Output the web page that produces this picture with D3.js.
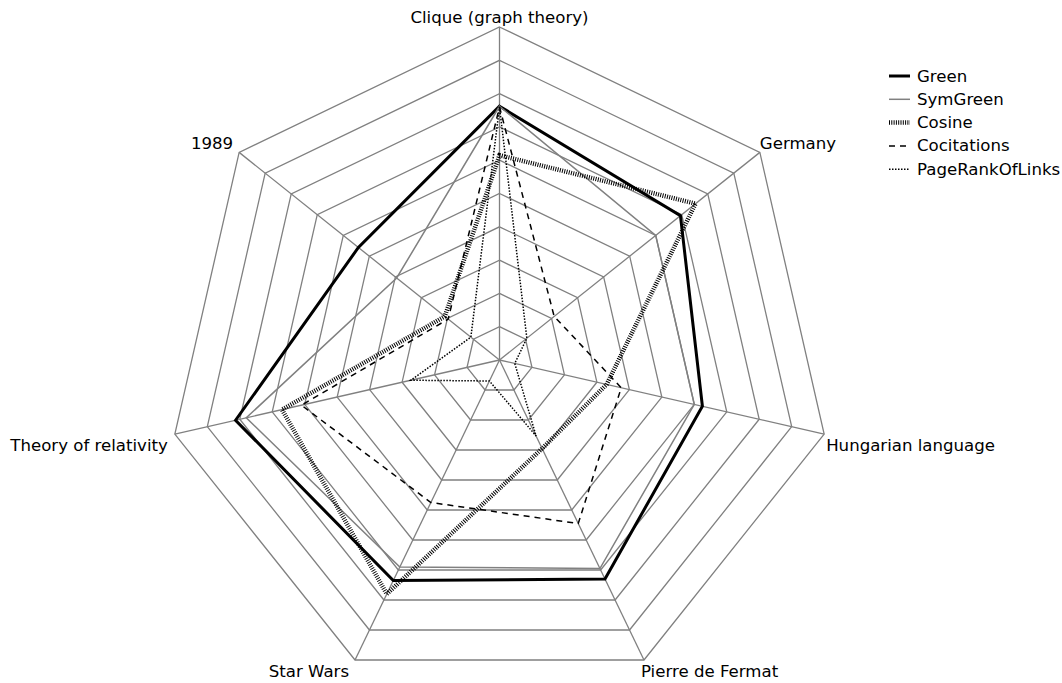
<!DOCTYPE html>
<html>
<head>
<meta charset="utf-8">
<script src="https://cdn.jsdelivr.net/npm/d3@7"></script>
<style>
  html, body { margin: 0; padding: 0; background: #fff; }
  svg { display: block; font-family: "DejaVu Sans", sans-serif; }
</style>
</head>
<body>
<svg id="chart" width="1062" height="683"></svg>
<script>
const categories = ["Clique (graph theory)", "Germany", "Hungarian language", "Pierre de Fermat", "Star Wars", "Theory of relativity", "1989"];
const seriesNames = ["Green", "SymGreen", "Cosine", "Cocitations", "PageRankOfLinks"];
const green = [7.62, 6.95, 6.25, 7.3, 7.35, 8.13, 5.42];
const symGreen = [7.62, 6.0, 6.0, 6.95, 6.9, 7.8, 3.95];
const cosine = [6.15, 7.53, 3.3, 2.95, 7.8, 6.7, 2.1];
const cocitations = [7.6, 2.1, 3.75, 5.45, 4.75, 6.1, 1.97];
const pageRankOfLinks = [7.6, 1.05, 0.47, 2.53, 0.7, 2.73, 1.1];
const gridLevels = [1, 2, 3, 4, 5, 6, 7, 8, 9, 10];

const seriesValues = [green, symGreen, cosine, cocitations, pageRankOfLinks];
const styles = [
  { stroke: "#000", width: 3, dash: null },
  { stroke: "#808080", width: 1.5, dash: null },
  { stroke: "#000", width: 4.5, dash: "1,1.3" },
  { stroke: "#000", width: 1.5, dash: "6,5" },
  { stroke: "#000", width: 1.5, dash: "1.5,1.5" }
];
const FS = 16.6;

const svg = d3.select("#chart");
const cx = 499.5, cy = 360, R = 333;
const r = d3.scaleLinear().domain([0, 10]).range([0, R]);
const angle = d3.scalePoint().domain(categories).range([0, 2 * Math.PI * (categories.length - 1) / categories.length]);

const g = svg.append("g").attr("transform", `translate(${cx},${cy})`);

function pt(cat, v) {
  const a = angle(cat);
  return [r(v) * Math.sin(a), -r(v) * Math.cos(a)];
}

// grid polygons
const gridLine = d3.line().curve(d3.curveLinearClosed);
g.append("g").selectAll("path").data(gridLevels).join("path")
  .attr("d", lv => gridLine(categories.map(c => pt(c, lv))))
  .attr("fill", "none").attr("stroke", "#808080").attr("stroke-width", 1.3);

// spokes
g.append("g").selectAll("line").data(categories).join("line")
  .attr("x1", 0).attr("y1", 0)
  .attr("x2", c => pt(c, 10)[0]).attr("y2", c => pt(c, 10)[1])
  .attr("stroke", "#808080").attr("stroke-width", 1.3);

// series
const radial = d3.lineRadial().curve(d3.curveLinearClosed)
  .angle((d, i) => angle(categories[i])).radius(d => r(d));
g.append("g").selectAll("path").data(seriesValues).join("path")
  .attr("d", d => radial(d))
  .attr("fill", "none")
  .attr("stroke", (d, i) => styles[i].stroke)
  .attr("stroke-width", (d, i) => styles[i].width)
  .attr("stroke-dasharray", (d, i) => styles[i].dash)
  .attr("stroke-linejoin", "miter");

// category labels
g.append("g").selectAll("text").data(categories).join("text")
  .attr("font-size", FS).attr("fill", "#000")
  .each(function(c) {
    const a = angle(c);
    const [x, y] = pt(c, 10);
    const s = Math.sin(a), co = Math.cos(a);
    let anchor = "middle", dx = 0, dy = 0;
    if (Math.abs(s) < 0.1) { anchor = "middle"; dy = -10; }
    else if (s > 0) { anchor = "start"; dx = co > 0 ? 0 : (co > -0.5 ? 2 : -3); }
    else { anchor = "end"; dx = co > 0 ? -6 : (co > -0.5 ? -7 : -6); }
    if (Math.abs(s) >= 0.1) dy = co > 0 ? -9 : 11;
    d3.select(this)
      .attr("x", x + dx).attr("y", y + dy)
      .attr("text-anchor", anchor)
      .attr("dominant-baseline", "central")
      .text(c);
  });

// legend
const legend = svg.append("g").attr("transform", "translate(889,76)");
const li = legend.selectAll("g").data(seriesNames).join("g")
  .attr("transform", (d, i) => `translate(0,${i * 23.3})`);
li.append("line").attr("x1", 0).attr("x2", 21).attr("y1", 0).attr("y2", 0)
  .attr("stroke", (d, i) => styles[i].stroke)
  .attr("stroke-width", (d, i) => styles[i].width)
  .attr("stroke-dasharray", (d, i) => styles[i].dash);
li.append("text").attr("x", 28).attr("y", 0)
  .attr("dominant-baseline", "central")
  .attr("font-size", FS).attr("fill", "#000")
  .text(d => d);
</script>
</body>
</html>
